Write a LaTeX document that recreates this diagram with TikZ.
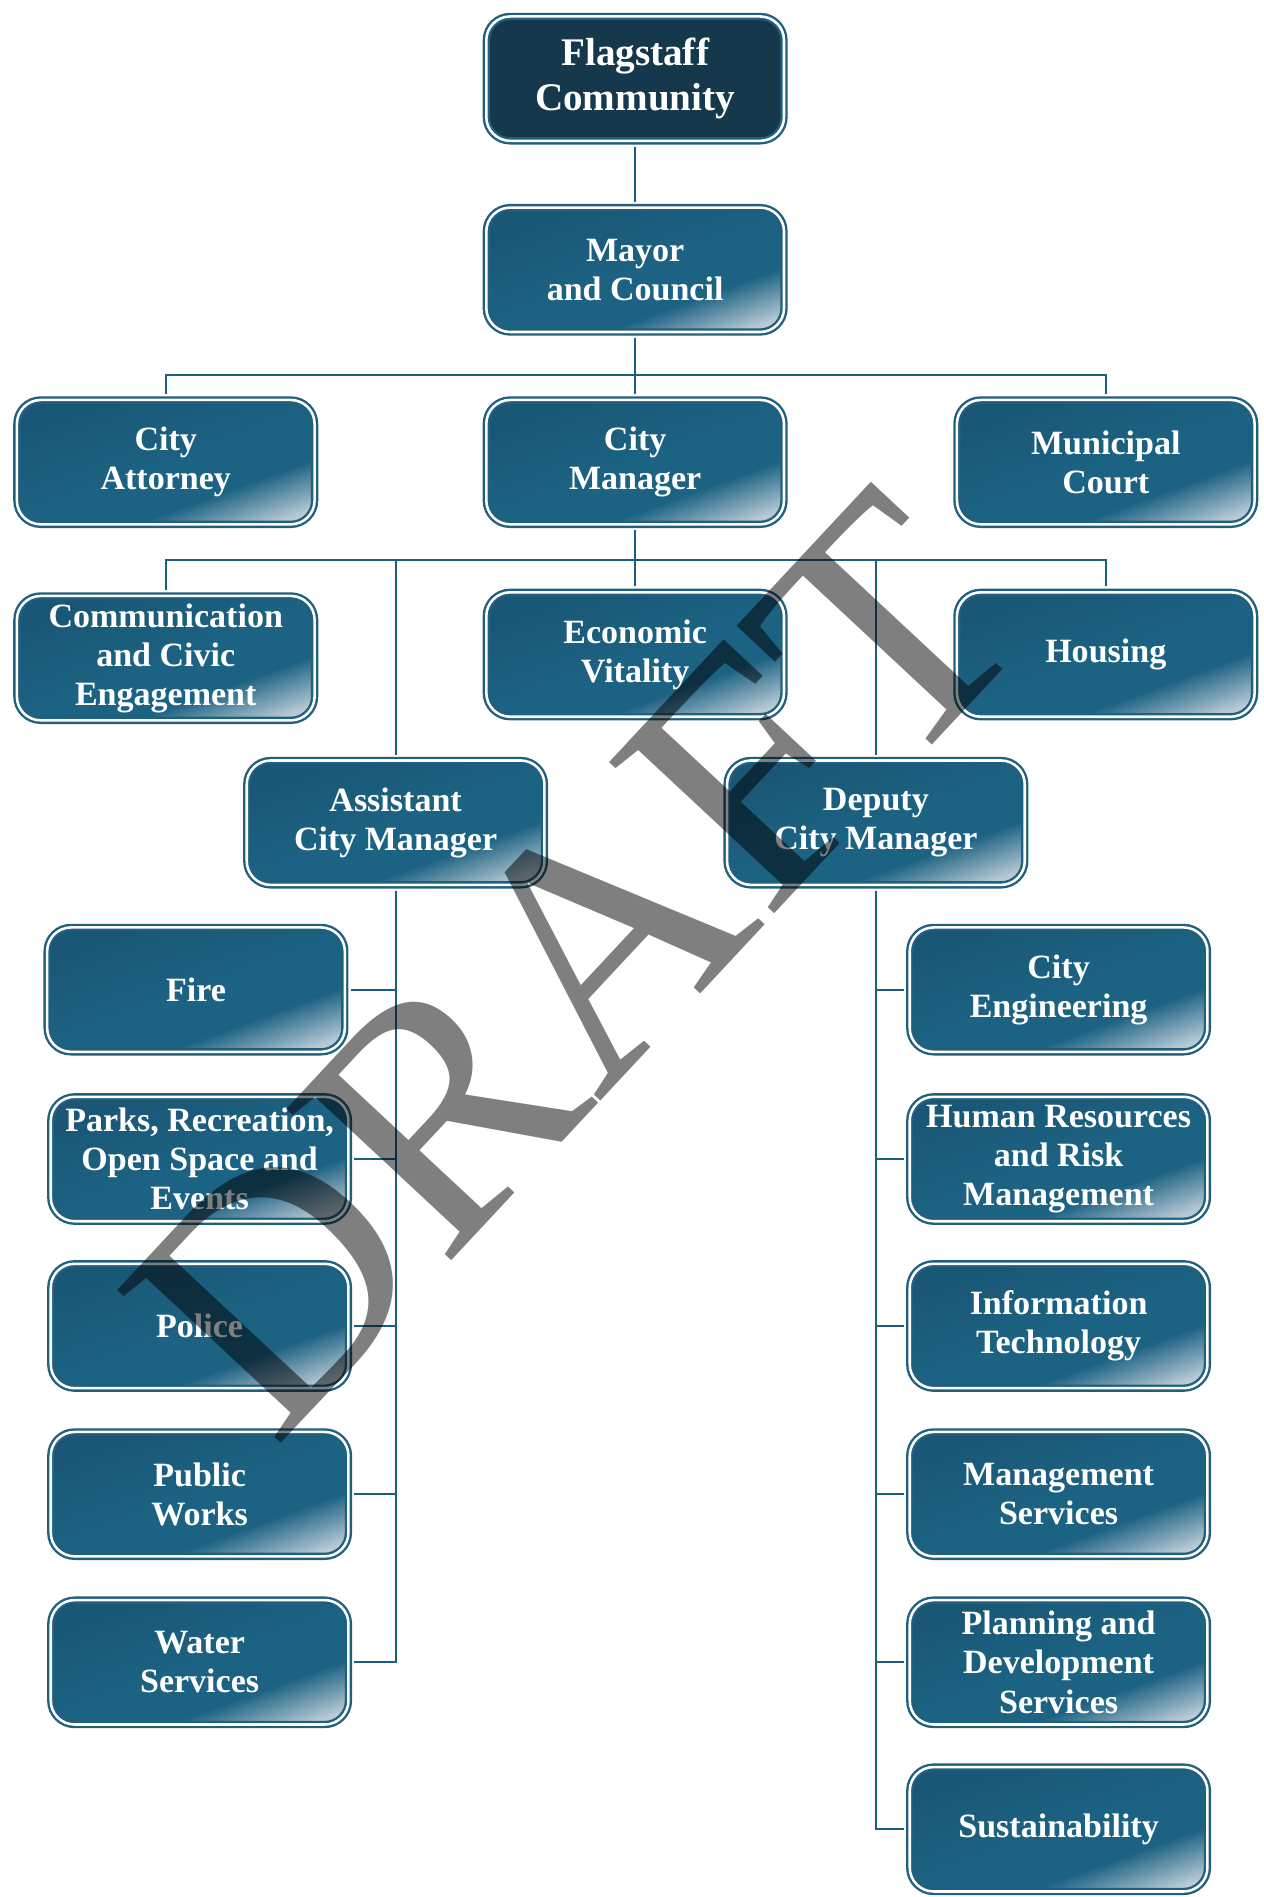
\documentclass[tikz,border=0pt]{standalone}
\usepackage{fontspec}
\setmainfont{Liberation Serif}
\usepackage{tikz}
\usetikzlibrary{shadings}

\definecolor{boxblue}{HTML}{1C6282}
\definecolor{boxdark}{HTML}{1A5675}
\definecolor{boxlight}{HTML}{B8CAD6}
\definecolor{linecol}{HTML}{1B5E7E}
\definecolor{navy}{HTML}{15384D}
\definecolor{rim}{HTML}{215F7E}

\pgfdeclarehorizontalshading{boxshade}{100bp}{color(0bp)=(boxdark); color(25bp)=(boxdark); color(50bp)=(boxblue); color(64bp)=(boxblue); color(78bp)=(boxlight); color(100bp)=(boxlight)}

\begin{document}
\begin{tikzpicture}[x=0.025cm, y=-0.025cm, thick]
    \tikzset{boxbase/.style = {shape=rectangle, rounded corners=14pt,
        draw=rim, line width=1.4pt, double=white, double distance=1.5pt, outer sep=3.5pt,
        minimum width=6.15cm, minimum height=2.57cm, text=white, align=center,
        font=\bfseries\fontsize{20}{23}\selectfont}}
    \tikzset{unit/.style = {boxbase, shading=boxshade, shading angle=-70}}
    \tikzset{topunit/.style = {boxbase, fill=navy, font=\bfseries\fontsize{23}{26.5}\selectfont}}
    \tikzset{edge/.style = {draw=linecol, line width=1.2pt}}
    \useasboundingbox (0,0) rectangle (1044,1568);

    % units
    \node[topunit] (flag) at (525,65) {Flagstaff\\Community};
    \node[unit] (mayor) at (525,223) {Mayor\\and Council};
    \node[unit] (attorney) at (137,382) {City\\Attorney};
    \node[unit] (manager) at (525,382) {City\\Manager};
    \node[unit] (court) at (914,382) {Municipal\\Court};
    \node[unit] (comm) at (137,544) {Communication\\and Civic\\Engagement};
    \node[unit] (econ) at (525,541) {Economic\\Vitality};
    \node[unit] (housing) at (914,541) {Housing};
    \node[unit] (asst) at (327,680) {Assistant\\City Manager};
    \node[unit] (deputy) at (724,680) {Deputy\\City Manager};

    \node[unit] (fire) at (162,818) {Fire};
    \node[unit] (parks) at (165,958) {Parks, Recreation,\\Open Space and\\Events};
    \node[unit] (police) at (165,1096) {Police};
    \node[unit] (works) at (165,1235) {Public\\Works};
    \node[unit] (water) at (165,1374) {Water\\Services};

    \node[unit] (eng) at (875,818) {City\\Engineering};
    \node[unit] (hr) at (875,958) {Human Resources\\and Risk\\Management};
    \node[unit] (it) at (875,1096) {Information\\Technology};
    \node[unit] (mgmt) at (875,1235) {Management\\Services};
    \node[unit] (plan) at (875,1374) {Planning and\\Development\\Services};
    \node[unit] (sust) at (875,1512) {Sustainability};

    \coordinate (bus1) at (525,310);
    \coordinate (bus2) at (525,463);

    % edges
    \draw[edge] (flag) -- (mayor);
    \draw[edge] (mayor.south) -- (bus1);
    \draw[edge] (manager.north) -- (bus1);
    \draw[edge] (attorney.north) |- (bus1) -| (court.north);
    \draw[edge] (manager.south) -- (bus2);
    \draw[edge] (econ.north) -- (bus2);
    \draw[edge] (comm.north) |- (bus2) -| (housing.north);
    \draw[edge] (asst.north) -- (asst.north |- bus2);
    \draw[edge] (deputy.north) -- (deputy.north |- bus2);

    \draw[edge] (asst.south) |- (water.east);
    \draw[edge] (fire.east) -- (fire.east -| asst.south);
    \draw[edge] (parks.east) -- (parks.east -| asst.south);
    \draw[edge] (police.east) -- (police.east -| asst.south);
    \draw[edge] (works.east) -- (works.east -| asst.south);

    \draw[edge] (deputy.south) |- (sust.west);
    \draw[edge] (eng.west) -- (eng.west -| deputy.south);
    \draw[edge] (hr.west) -- (hr.west -| deputy.south);
    \draw[edge] (it.west) -- (it.west -| deputy.south);
    \draw[edge] (mgmt.west) -- (mgmt.west -| deputy.south);
    \draw[edge] (plan.west) -- (plan.west -| deputy.south);

    % watermark
    \node[anchor=base, rotate=47, text=black, text opacity=0.5, inner sep=0pt,
      font=\fontsize{201}{201}\selectfont] (draft) at (543,860) {DRAFT};
\end{tikzpicture}
\end{document}
